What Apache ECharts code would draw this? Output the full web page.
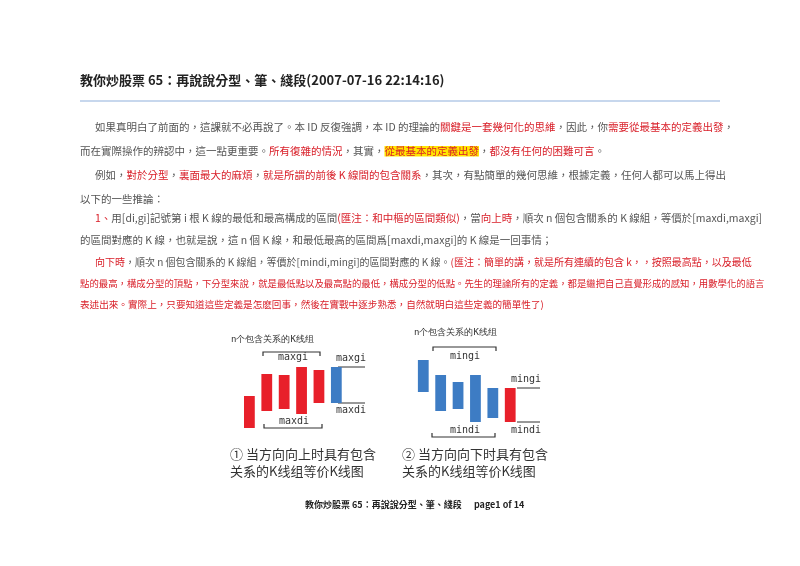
<!DOCTYPE html>
<html>
<head>
<meta charset="utf-8">
<script src="https://cdn.jsdelivr.net/npm/echarts@6/dist/echarts.min.js"></script>
<style>html,body{margin:0;padding:0;background:#fff}#main{width:800px;height:566px}</style>
</head>
<body>
<div id="main"></div>
<script>
// K线位置（横轴单位）和区间 [低, 高]
var upPos = [0, 1, 2, 3, 4];
var upBars = [[12, 44], [29, 66], [31, 65], [26, 73], [37, 70]];
var upMerged = [5, 37, 73];
var downPos = [10, 11, 12, 13, 14];
var downBars = [[48, 80], [29, 65], [31, 58], [18, 65], [22, 52]];
var downMerged = [15, 18, 52];

var RED = '#e8202a', BLUE = '#3d7cc4';

function kData(pos, bars, color) {
  return bars.map(function (b, i) { return { value: [pos[i], b[0], b[1]], itemStyle: { color: color } }; });
}
var barData = kData(upPos, upBars, RED)
  .concat(kData(downPos, downBars, BLUE))
  .concat([{ value: upMerged, itemStyle: { color: BLUE } }, { value: downMerged, itemStyle: { color: RED } }]);

var myChart = echarts.init(document.getElementById('main'));
var F = '"Noto Sans CJK TC", "Noto Sans CJK SC", sans-serif';
var G = '#555', R = '#d9202a';

function line(x, y, parts, size) {
  var rich = {}, txt = '';
  size = size || 10.5;
  parts.forEach(function (p, i) {
    var k = 's' + i;
    var st = { fontSize: size, fontFamily: F, fill: G };
    if (p[1] === 'r') st.fill = R;
    if (p[1] === 'y') { st.fill = R; st.backgroundColor = '#ffe600'; }
    rich[k] = st;
    txt += '{' + k + '|' + p[0] + '}';
  });
  return { type: 'text', left: x, top: y, style: { text: txt, rich: rich, font: size + 'px ' + F } };
}

var texts = [
  line(95, 122, [['如果真明白了前面的，這課就不必再說了。本 ID 反復強調，本 ID 的理論的'], ['關鍵是一套幾何化的思維', 'r'], ['，因此，你'], ['需要從最基本的定義出發', 'r'], ['，']]),
  line(80, 146, [['而在實際操作的辨認中，這一點更重要。'], ['所有復雜的情況', 'r'], ['，其實，'], ['從最基本的定義出發', 'y'], ['，'], ['都沒有任何的困難可言', 'r'], ['。']]),
  line(95, 170, [['例如，'], ['對於分型', 'r'], ['，'], ['裏面最大的麻煩', 'r'], ['，'], ['就是所謂的前後 K 線間的包含關系', 'r'], ['，其次，有點簡單的幾何思維，根據定義，任何人都可以馬上得出']]),
  line(80, 194, [['以下的一些推論：']]),
  line(95, 213, [['1、', 'r'], ['用[di,gi]記號第 i 根 K 線的最低和最高構成的區間'], ['(匯注：和中樞的區間類似)', 'r'], ['，當'], ['向上時', 'r'], ['，順次 n 個包含關系的 K 線組，等價於[maxdi,maxgi]']]),
  line(80, 235, [['的區間對應的 K 線，也就是說，這 n 個 K 線，和最低最高的區間爲[maxdi,maxgi]的 K 線是一回事情；']]),
  line(95, 257, [['向下時', 'r'], ['，順次 n 個包含關系的 K 線組，等價於[mindi,mingi]的區間對應的 K 線。'], ['(匯注：簡單的講，就是所有連續的包含 k，，按照最高點，以及最低', 'r']], 10),
  line(80, 279, [['點的最高，構成分型的頂點，下分型來說，就是最低點以及最高點的最低，構成分型的低點。先生的理論所有的定義，都是繼把自己直覺形成的感知，用數學化的語言', 'r']], 9.4),
  line(80, 300, [['表述出來。實際上，只要知道這些定義是怎麽回事，然後在實戰中逐步熟悉，自然就明白這些定義的簡單性了)', 'r']], 9.6)
];

function bracket(x1, x2, y, dir) {
  return { type: 'polyline', shape: { points: [[x1, y + 4 * dir], [x1, y], [x2, y], [x2, y + 4 * dir]] }, style: { stroke: '#333', lineWidth: 1.2, fill: null } };
}
function lbl(x, y, t, size) {
  return { type: 'text', left: x, top: y, style: { text: t, font: (size || 10) + 'px "DejaVu Sans Mono", monospace', fill: '#333' } };
}
function hl(x1, x2, y) {
  return { type: 'line', shape: { x1: x1, y1: y, x2: x2, y2: y }, style: { stroke: '#333', lineWidth: 1 } };
}
var deco = [
  { type: 'text', left: 80, top: 74, style: { text: '教你炒股票 65：再說說分型、筆、綫段(2007-07-16 22:14:16)', font: 'bold 13px ' + F, fill: '#222' } },
  { type: 'line', shape: { x1: 80, y1: 101, x2: 720, y2: 101 }, style: { stroke: '#8fb0dc', lineWidth: 1.2 } },
  { type: 'text', left: 305, top: 500, style: { text: '教你炒股票 65：再說說分型、筆、綫段      page1 of 14', font: 'bold 9px ' + F, fill: '#222' } },
  lbl(231, 335, 'n个包含关系的K线组', 9), lbl(414, 328, 'n个包含关系的K线组', 9),
  bracket(263, 320, 352, 1), lbl(278, 352, 'maxgi', 10),
  bracket(264, 322, 428, -1), lbl(279, 416, 'maxdi', 10),
  bracket(433, 496, 347, 1), lbl(450, 351, 'mingi', 10),
  bracket(432, 495, 437, -1), lbl(450, 425, 'mindi', 10),
  hl(338, 365, 367), hl(338, 365, 403), lbl(336, 353, 'maxgi', 10), lbl(336, 405, 'maxdi', 10),
  hl(517, 540, 388), hl(517, 540, 422), lbl(511, 374, 'mingi', 10), lbl(511, 425, 'mindi', 10),
  { type: 'text', left: 230, top: 446, style: { text: '① 当方向向上时具有包含\n关系的K线组等价K线图', font: '13px ' + F, fill: '#333', lineHeight: 17 } },
  { type: 'text', left: 402, top: 446, style: { text: '② 当方向向下时具有包含\n关系的K线组等价K线图', font: '13px ' + F, fill: '#333', lineHeight: 17 } }
];

var option = {
  animation: false,
  grid: { left: 232, width: 313, top: 350, height: 90 },
  xAxis: { type: 'value', min: -1, max: 17, show: false },
  yAxis: { type: 'value', min: 0, max: 90, show: false },
  series: [{
    type: 'custom',
    data: barData,
    renderItem: function (params, api) {
      var lo = api.coord([api.value(0), api.value(1)]);
      var hi = api.coord([api.value(0), api.value(2)]);
      var w = api.size([0.62, 0])[0];
      return { type: 'rect', shape: { x: lo[0] - w / 2, y: hi[1], width: w, height: lo[1] - hi[1] }, style: api.style() };
    }
  }],
  graphic: texts.concat(deco)
};
myChart.setOption(option);
</script>
</body>
</html>
